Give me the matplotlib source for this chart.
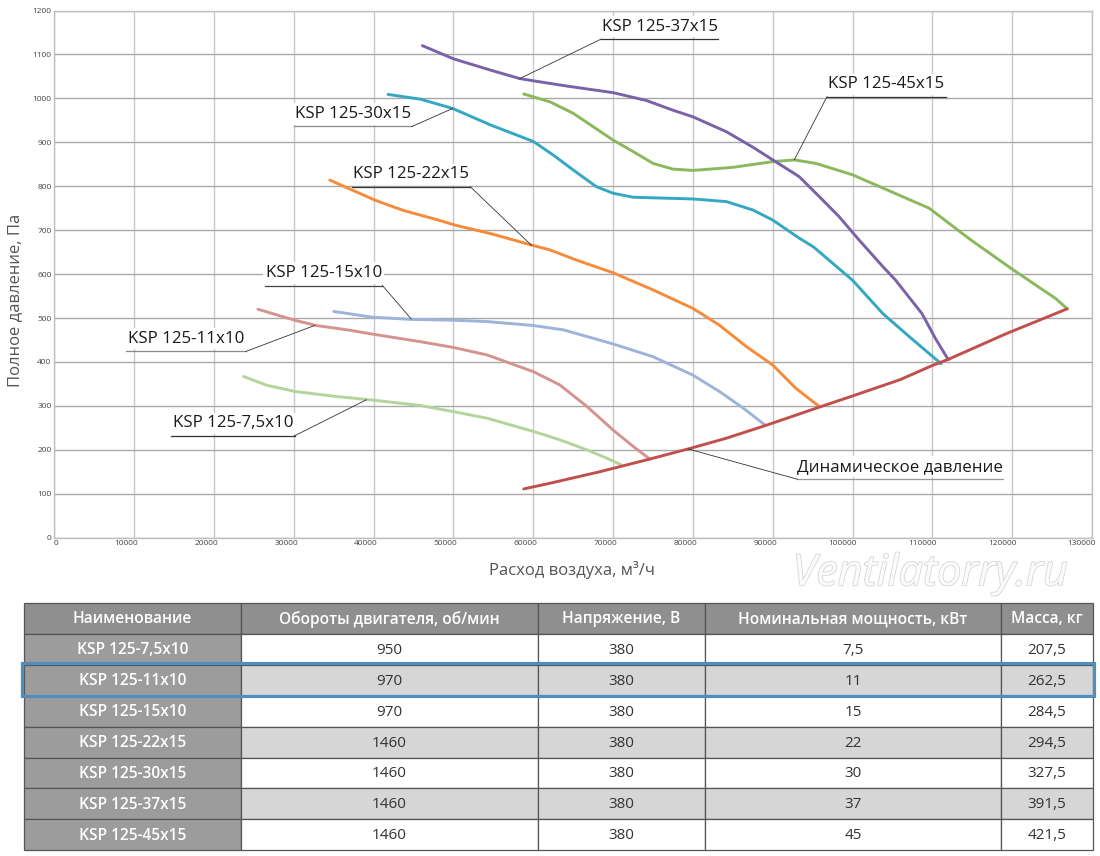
import matplotlib
matplotlib.use("Agg")
import matplotlib.pyplot as plt
import matplotlib.patches as mpatches
import matplotlib.transforms as mtransforms
import matplotlib.patheffects as pe

plt.rcParams['font.family'] = ['Open Sans', 'DejaVu Sans']

# ---- fan curves (air flow m3/h, total pressure Pa) ----
q_37 = [46100, 50000, 54700, 58300, 60000, 64200, 70000, 74200, 77500, 80000, 84200, 87500, 90000,
        93300, 95800, 98300, 100800, 103800, 105400, 108700, 110400, 112000]
p_37 = [1120, 1090, 1064, 1045, 1040, 1028, 1013, 995, 973, 958, 924, 889, 860,
        822, 777, 731, 678, 617, 586, 510, 453, 405]

q_30 = [41800, 45900, 49900, 54700, 60000, 62500, 65000, 67900, 70000, 72500, 80000, 84200, 87500,
        90000, 93300, 95100, 100000, 103800, 107400, 111100]
p_30 = [1009, 998, 977, 939, 902, 871, 837, 799, 784, 775, 771, 765, 746,
        723, 682, 662, 586, 510, 453, 396]

q_45 = [58800, 62100, 65000, 70000, 72500, 75000, 77500, 80000, 85000, 90000, 92700, 95400, 100000,
        105800, 109600, 114800, 120100, 125400, 126900]
p_45 = [1010, 992, 966, 905, 879, 852, 839, 836, 843, 856, 860, 852, 826,
        780, 750, 678, 610, 545, 521]

q_22 = [34500, 37100, 40200, 43700, 48100, 50300, 54700, 59600, 62100, 65400, 70000, 75000, 80000,
        83300, 86700, 90000, 92900, 95800]
p_22 = [814, 793, 768, 745, 723, 711, 692, 667, 655, 632, 603, 564, 522, 484, 435, 393, 340, 299]

q_15 = [35000, 39800, 44600, 50000, 54200, 60000, 63800, 70000, 75000, 80000, 83300, 86300, 89000]
p_15 = [515, 502, 497, 495, 492, 483, 473, 441, 412, 370, 333, 295, 257]

q_11 = [25500, 30100, 32800, 37100, 40000, 45900, 50000, 54200, 60000, 63300, 66700, 70000, 72500, 74600]
p_11 = [520, 495, 483, 472, 463, 446, 433, 416, 378, 348, 299, 245, 208, 179]

q_7 = [23700, 26600, 30100, 35000, 40000, 45800, 50000, 54200, 60000, 63300, 66700, 69200, 71000]
p_7 = [367, 347, 333, 322, 313, 301, 287, 272, 242, 223, 200, 181, 166]

q_dyn = [58800, 62100, 68300, 74600, 79600, 84100, 89200, 95800, 99900, 106000, 110000, 112000,
         119200, 126900]
p_dyn = [111, 124, 150, 179, 203, 226, 256, 297, 322, 360, 392, 406, 464, 521]

x_ticks = list(range(0, 130001, 10000))
y_ticks = list(range(0, 1201, 100))

# ---- table ----
headers = ["Наименование", "Обороты двигателя, об/мин", "Напряжение, В",
           "Номинальная мощность, кВт", "Масса, кг"]
models = ["KSP 125-7,5x10", "KSP 125-11x10", "KSP 125-15x10", "KSP 125-22x15",
          "KSP 125-30x15", "KSP 125-37x15", "KSP 125-45x15"]
rpm = ["950", "970", "970", "1460", "1460", "1460", "1460"]
voltage = ["380", "380", "380", "380", "380", "380", "380"]
power = ["7,5", "11", "15", "22", "30", "37", "45"]
mass = ["207,5", "262,5", "284,5", "294,5", "327,5", "391,5", "421,5"]

fig = plt.figure(figsize=(11, 8.56), dpi=100)
W, H = 1100, 856
ax = fig.add_axes([54.4 / W, (H - 537.7) / H, (1092 - 54.4) / W, (537.7 - 10.5) / H])

ax.set_xlim(0, 130000)
ax.set_ylim(0, 1200)
ax.set_xticks(x_ticks)
ax.set_yticks(y_ticks)
ax.set_xticklabels([str(v) for v in x_ticks])
ax.set_yticklabels([str(v) for v in y_ticks])
ax.tick_params(length=0, labelsize=6, labelcolor='#444444')
ax.tick_params(axis='x', pad=2)
ax.tick_params(axis='y', pad=2)
off = mtransforms.ScaledTranslation(3 / 72, 0, fig.dpi_scale_trans)
for lab in ax.get_xticklabels():
    lab.set_horizontalalignment('right')
    lab.set_transform(lab.get_transform() + off)

for v in x_ticks:
    ax.axvline(v, color='#c8c8c8', lw=1.0, zorder=0)
for v in y_ticks:
    ax.axhline(v, color='#a9a9a9', lw=1.0, zorder=0)
for s in ax.spines.values():
    s.set_color('#c0c0c0')
    s.set_linewidth(1.0)

lw = 2.1
style = dict(lw=lw, solid_capstyle='round', solid_joinstyle='round')
ax.plot(q_7, p_7, color='#b3d49b', zorder=3, **style)
ax.plot(q_11, p_11, color='#d4938f', zorder=3, **style)
ax.plot(q_15, p_15, color='#9db3d8', zorder=3, **style)
ax.plot(q_22, p_22, color='#f68b3c', zorder=3, **style)
ax.plot(q_30, p_30, color='#34a8c2', zorder=3, **style)
ax.plot(q_45, p_45, color='#8cb85c', zorder=3, **style)
ax.plot(q_37, p_37, color='#7a62a8', zorder=3, **style)
ax.plot(q_dyn, p_dyn, color='#c1504d', zorder=4, **style)

# callouts: text, underline x0, x1, underline y, target x, target y, leader from left end?, underline colour
callouts = [
    ("KSP 125-37x15", 68500, 83200, 1135, 58300, 1045, True, '#333333'),
    ("KSP 125-45x15", 96800, 111700, 1004, 92700, 860, True, '#333333'),
    ("KSP 125-30x15", 30000, 44800, 936, 49900, 977, False, '#888888'),
    ("KSP 125-22x15", 37300, 52100, 799, 59800, 665, False, '#333333'),
    ("KSP 125-15x10", 26400, 41100, 574, 44700, 498, False, '#444444'),
    ("KSP 125-11x10", 9000, 24000, 424, 32600, 483, False, '#888888'),
    ("KSP 125-7,5x10", 14600, 30100, 232, 39100, 314, False, '#333333'),
    ("Динамическое давление", 93100, 118800, 133, 79400, 202, True, '#999999'),
]
for text, x0, x1, yu, xt, yt, left, uc in callouts:
    ax.plot([x0, x1], [yu, yu], color=uc, lw=0.9, zorder=5)
    xs = x0 if left else x1
    ax.plot([xs, xt], [yu, yt], color='#333333', lw=0.6, zorder=5)
    ax.annotate(text, xy=((x0 + x1) / 2, yu), xytext=(0, 9), textcoords='offset points',
                ha='center', va='center', fontsize=12.2, color='#1a1a1a', zorder=6,
                bbox=dict(boxstyle='square,pad=0.15', fc='white', ec='none'))

fig.text(15 / W, 1 - 300 / H, "Полное давление, Па", rotation=90, ha='center', va='center',
         fontsize=12, color='#555555')
fig.text(572 / W, 1 - 570 / H, "Расход воздуха, м³/ч", ha='center', va='center',
         fontsize=12, color='#555555')
fig.text(930 / W, 1 - 574 / H, "Ventilatorry.ru", ha='center', va='center', fontsize=31,
         style='italic', color='#fbfbfb',
         path_effects=[pe.withStroke(linewidth=1.2, foreground='#d6d6d6')])

# ---- table drawn in pixel coordinates ----
tab = fig.add_axes([0, 0, 1, 1])
tab.set_xlim(0, W)
tab.set_ylim(H, 0)
tab.axis('off')
col_x = [24, 241, 538, 705, 1001, 1093]
top, row_h = 603, 30.9
columns = [models, rpm, voltage, power, mass]
n_rows = len(models) + 1
for r in range(n_rows):
    y0 = top + r * row_h
    for c in range(len(col_x) - 1):
        x0, x1 = col_x[c], col_x[c + 1]
        if r == 0:
            fc, tc, wt, txt, fs = '#8f8f8f', 'white', 'semibold', headers[c], 11.2
        elif c == 0:
            fc, tc, wt, txt, fs = '#9c9c9c', 'white', 'semibold', columns[c][r - 1], 11.2
        else:
            fc = '#d6d6d6' if r % 2 == 0 else 'white'
            tc, wt, txt, fs = '#333333', 'normal', columns[c][r - 1], 11
        tab.add_patch(mpatches.Rectangle((x0, y0), x1 - x0, row_h, fc=fc, ec='#555555', lw=0.9))
        tab.text((x0 + x1) / 2, y0 + row_h / 2 + 1, txt, ha='center', va='center',
                 fontsize=fs, color=tc, fontweight=wt)
tab.add_patch(mpatches.Rectangle((22, top + row_h * 2 - 1.5), 1072, row_h + 1.5, fc='none',
                                 ec='#4f8fc0', lw=2.3))

fig.savefig("out.png", dpi=100, facecolor='white')
